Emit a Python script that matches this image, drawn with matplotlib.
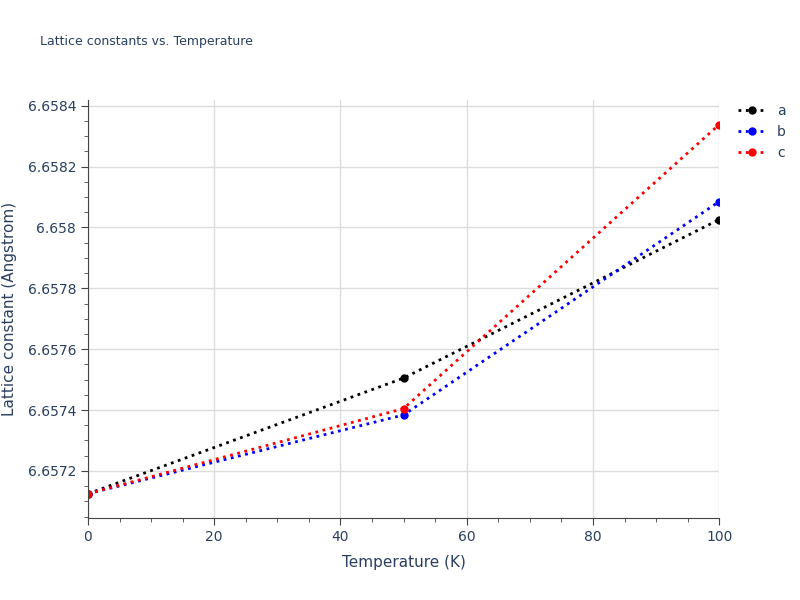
import numpy as np
import matplotlib.pyplot as plt
from matplotlib.ticker import MultipleLocator, FuncFormatter

temps = [0, 50, 100]
lat_a = [6.657125, 6.657505, 6.658026]
lat_b = [6.657125, 6.657384, 6.658085]
lat_c = [6.657125, 6.657405, 6.658338]

fig = plt.figure(figsize=(8, 6), dpi=100)
ax = fig.add_axes([0.11, 0.137, 0.789, 0.696])

for vals, col, name in [(lat_a, "black", "a"), (lat_b, "blue", "b"), (lat_c, "red", "c")]:
  ax.plot(temps, vals, ":", color=col, marker="o", markersize=5, linewidth=2, label=name)

ax.set_xlim(0, 100)
ax.set_ylim(6.657046, 6.658418)
ax.xaxis.set_major_locator(MultipleLocator(20))
ax.xaxis.set_minor_locator(MultipleLocator(5))
ax.yaxis.set_major_locator(MultipleLocator(0.0002))
ax.yaxis.set_minor_locator(MultipleLocator(0.00005))
ax.yaxis.set_major_formatter(FuncFormatter(lambda v, p: ("%.4f" % v).rstrip("0")))
ax.grid(True, which="major", color="#dddddd", linewidth=1)
ax.set_axisbelow(True)
for s in ["top", "right"]:
  ax.spines[s].set_visible(False)
for s in ["left", "bottom"]:
  ax.spines[s].set_color("#444444")
txt = "#2a3f5f"
ax.tick_params(which="both", colors="#444444", labelcolor=txt, labelsize=10)
ax.tick_params(which="major", length=5)
ax.tick_params(which="minor", length=3)
ax.set_xlabel("Temperature (K)", color=txt, fontsize=11, labelpad=8)
ax.set_ylabel("Lattice constant (Angstrom)", color=txt, fontsize=11, labelpad=8)
fig.text(0.05, 0.925, "Lattice constants vs. Temperature", color=txt, fontsize=9)
ax.legend(loc="upper left", bbox_to_anchor=(1.01, 1.02), frameon=False, labelcolor=txt,
          handlelength=2, fontsize=10)

fig.savefig("out.png")
